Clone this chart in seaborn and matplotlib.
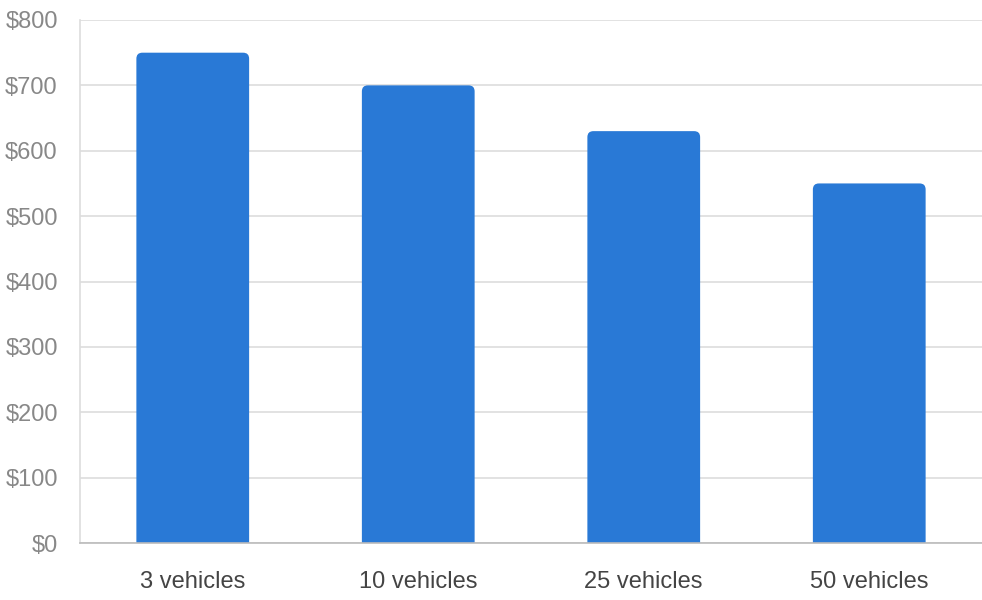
import matplotlib
matplotlib.use("Agg")
import matplotlib.pyplot as plt
from matplotlib.patches import FancyBboxPatch
import seaborn as sns
import pandas as pd

# Chart data
categories = ["3 vehicles", "10 vehicles", "25 vehicles", "50 vehicles"]
prices = [750, 700, 630, 550]
y_ticks = [0, 100, 200, 300, 400, 500, 600, 700, 800]

df = pd.DataFrame({"fleet": categories, "price": prices})

sns.set_theme(style="white")
plt.rcParams["font.family"] = ["Liberation Sans", "DejaVu Sans"]

bar_color = "#2979d6"
fig = plt.figure(figsize=(9.82, 6.0), dpi=100)
ax = fig.add_axes([80 / 982, 57 / 600, 902 / 982, 523 / 600])

sns.barplot(data=df, x="fleet", y="price", color=bar_color, width=0.5,
            saturation=1, ax=ax, zorder=3)

# swap square bars for ones with rounded top corners
ax.set_ylim(0, 800)
ax.set_xlim(-0.5, 3.5)
px_x = 902 / 4.0
px_y = 523 / 800.0
r_px = 6
rx = r_px / px_x
ry = r_px / px_y
for p in list(ax.patches):
    x0, w, h = p.get_x(), p.get_width(), p.get_height()
    p.remove()
    # bottom corners are pushed below the axis and clipped away
    ax.add_patch(FancyBboxPatch((x0 + rx, -40), w - 2 * rx, h + 40 - ry,
                                boxstyle=f"round,pad={rx},rounding_size={rx}",
                                mutation_aspect=ry / rx, facecolor=bar_color,
                                edgecolor="none", zorder=3, clip_on=True))

ax.set_yticks(y_ticks)
ax.set_yticklabels([f"${v}" for v in y_ticks])
ax.yaxis.grid(True, color="#dddddd", linewidth=1.2, zorder=0)
ax.set_xlabel("")
ax.set_ylabel("")

ax.tick_params(axis="y", length=10, width=1.2, color="#dddddd", pad=6,
               labelsize=17, labelcolor="#888888")
ax.tick_params(axis="x", length=0, pad=20, labelsize=17, labelcolor="#444444")

for side in ["top", "right"]:
    ax.spines[side].set_visible(False)
ax.spines["left"].set_color("#dddddd")
ax.spines["left"].set_linewidth(1.2)
ax.spines["bottom"].set_color("#bbbbbb")
ax.spines["bottom"].set_linewidth(1.2)
ax.spines["bottom"].set_zorder(4)

plt.savefig("out.png", dpi=100)
